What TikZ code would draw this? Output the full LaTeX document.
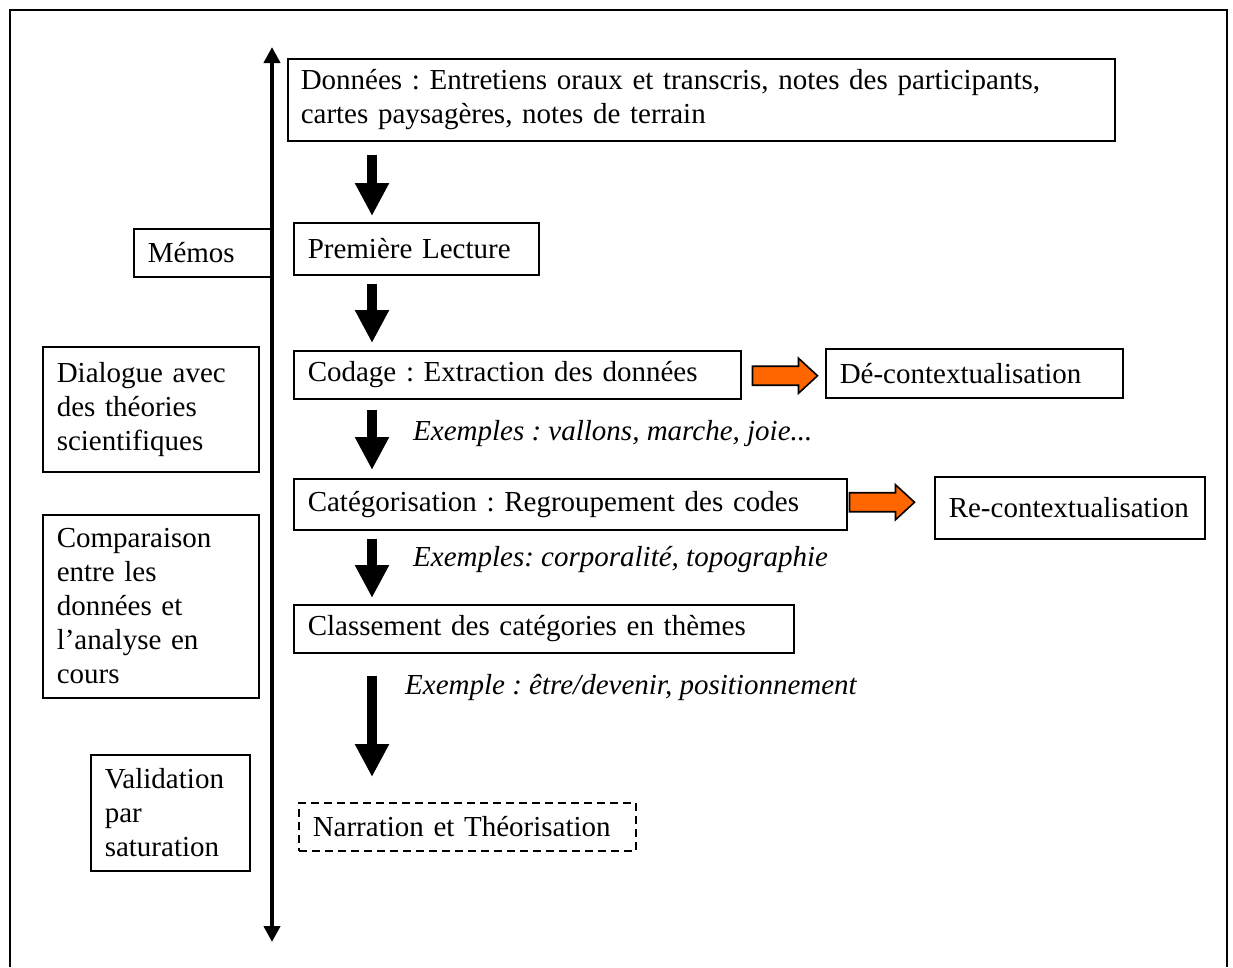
\documentclass[tikz,border=0pt]{standalone}
\usepackage{fontspec}
\setmainfont{Liberation Serif}
\usepackage{tikz}
\usetikzlibrary{positioning,arrows.meta,calc}
\definecolor{orangefl}{HTML}{FF6600}
\frenchspacing

\tikzset{
  boite/.style={draw,line width=1.5pt,rectangle,anchor=north west,align=left,inner ysep=0pt},
  fleche/.style={line width=10pt,-{Triangle[width=32pt,length=33pt]}},
  axe/.style={line width=4pt,{Triangle[width=16pt,length=16pt]}-{Triangle[width=16pt,length=16pt]}},
  exemple/.style={anchor=west,inner sep=0pt,font=\fontsize{29}{34}\selectfont\itshape}
}
\newcommand{\flecheorange}[1]{%
  \filldraw[fill=orangefl,draw=black,line width=1.6pt] #1 ++(0,-9.5) -- ++(46,0) -- ++(0,-8)
    -- ++(19,17.5) -- ++(-19,17.5) -- ++(0,-8) -- ++(-46,0) -- cycle;}

\begin{document}
\begin{tikzpicture}[x=1pt,y=-1pt,every node/.style={font=\fontsize{29}{34}\selectfont}]
\useasboundingbox (0,0) rectangle (1233,967);
% cadre
\draw[line width=2pt] (9.5,967) -- (9.5,9.5) -- (1226.5,9.5) -- (1226.5,967);

% axe du temps
\coordinate (axehaut) at (272,47);
\coordinate (axebas) at (272,942);
\draw[axe] (axehaut) -- (axebas);
\coordinate (colonne) at (372,0);

% etapes
\node[boite,inner xsep=13pt,text width=801pt,minimum height=82pt] (donnees) at (287,58)
  {Données : Entretiens oraux et transcris, notes des participants,\\cartes paysagères, notes de terrain};
\node[boite,inner xsep=14pt,text width=217pt,minimum height=52pt] (lecture) at (293,222) {Première Lecture};
\node[boite,inner xsep=14pt,text width=419pt,minimum height=48pt] (codage) at (293,350) {Codage : Extraction des données};
\node[boite,inner xsep=14pt,text width=269pt,minimum height=49pt] (deco) at (825,348) {Dé-contextualisation};
\node[boite,inner xsep=14pt,text width=525pt,minimum height=51pt] (categ) at (293,478) {Catégorisation : Regroupement des codes};
\node[boite,inner xsep=14pt,text width=242pt,minimum height=62pt] (reco) at (934,476) {Re-contextualisation};
\node[boite,inner xsep=14pt,text width=472pt,minimum height=48pt] (classement) at (293,604) {Classement des catégories en thèmes};
\node[boite,dash pattern=on 8pt off 5pt,inner xsep=14pt,text width=309pt,minimum height=48pt] (narration) at (298,802) {Narration et Théorisation};

% boites de gauche
\node[boite,inner xsep=14pt,text width=111pt,minimum height=48pt] (memos) at (133,228) {Mémos};
\node[boite,inner xsep=14pt,text width=188pt,minimum height=125pt] (dialogue) at (42,346)
  {Dialogue avec\\des théories\\scientifiques};
\node[boite,inner xsep=14pt,text width=188pt,minimum height=183pt] (comparaison) at (42,514)
  {Comparaison\\entre les\\données et\\l’analyse en\\cours};
\node[boite,inner xsep=14pt,text width=131pt,minimum height=116pt] (validation) at (90,754)
  {Validation\\par\\saturation};

% exemples
\node[exemple] (ex1) at (413,434) {Exemples : vallons, marche, joie...};
\node[exemple] (ex2) at (413,560) {Exemples: corporalité, topographie};
\node[exemple] (ex3) at (405,687) {Exemple : être/devenir, positionnement};

% fleches
\draw[fleche,shorten <=13pt,shorten >=6pt] (donnees.south -| colonne) -- (lecture.north -| colonne);
\draw[fleche,shorten <=8pt,shorten >=7pt] (lecture.south -| colonne) -- (codage.north -| colonne);
\draw[fleche,shorten <=10pt,shorten >=8pt] (codage.south -| colonne) -- (categ.north -| colonne);
\draw[fleche,shorten <=8pt,shorten >=6pt] (categ.south -| colonne) -- (classement.north -| colonne);
\draw[fleche,shorten <=22pt,shorten >=25pt] (classement.south -| colonne) -- (narration.north -| colonne);

\flecheorange{($(codage.east)+(11,1)$)}
\flecheorange{($(categ.east)+(2,-2)$)}
\end{tikzpicture}
\end{document}
